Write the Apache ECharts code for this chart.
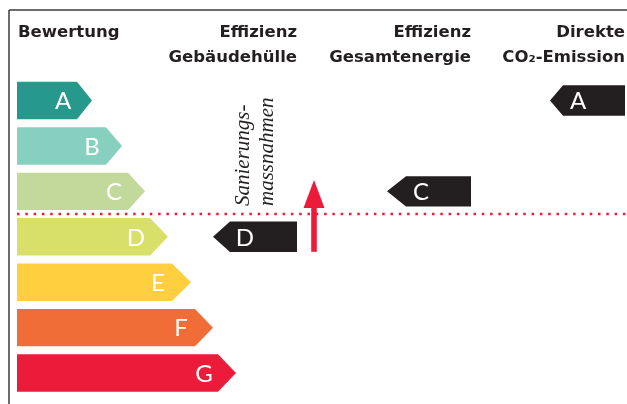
<!DOCTYPE html>
<html>
<head>
<meta charset="utf-8">
<script src="https://cdn.jsdelivr.net/npm/echarts@6/dist/echarts.min.js"></script>
<style>
  html, body { margin: 0; padding: 0; background: #fff; }
  #main { width: 627px; height: 404px; }
</style>
</head>
<body>
<div id="main"></div>
<script>
// Skala (Bewertung A-G): Ende des Balkens und Spitze, in Pixeln ab linkem Rand
var ratings = ['A', 'B', 'C', 'D', 'E', 'F', 'G'];
var ratingBodyEnds = [60, 89, 111, 133, 155, 178, 201];
var ratingTipEnds = [75, 105, 128, 151, 174, 196, 219];
var ratingColors = ['#27998c', '#87cfbf', '#c3d99c', '#d9e06a', '#ffcf40', '#f16d37', '#ed1b3a'];

// schwarze Markierungen je Spalte
var markerColumns = ['Effizienz\nGebäudehülle', 'Effizienz\nGesamtenergie', 'Direkte\nCO₂-Emission'];
var markerRatings = ['D', 'C', 'A'];
var markerTips = [196, 370, 533];
var markerBodyStarts = [213, 389, 546];
var markerEnds = [280, 454, 608];

// Sanierungspfeil: x-Position, von Klasse D nach Klasse C
var arrowX = 297;
var arrowFrom = 'D';
var arrowTo = 'C';

var chartDom = document.getElementById('main');
var myChart = echarts.init(chartDom);

var scaleData = ratings.map(function (r, i) {
  return [ratingBodyEnds[i], ratingTipEnds[i], i];
});
var markerData = markerRatings.map(function (r, i) {
  return [markerTips[i], markerBodyStarts[i], markerEnds[i], ratings.indexOf(r)];
});

var letterFont = '24px Lato';
var headFont = 'bold 16.5px "DejaVu Sans"';

var option = {
  animation: false,
  grid: { left: 17, right: 0, top: 77.8, bottom: 8.2 },
  xAxis: { type: 'value', min: 0, max: 610, show: false },
  yAxis: { type: 'category', data: ratings, inverse: true, show: false },
  graphic: [
    // Rahmen
    { type: 'line', shape: { x1: 9, y1: 10, x2: 627, y2: 10 }, style: { stroke: '#3a3a3a', lineWidth: 1.5 } },
    { type: 'line', shape: { x1: 9, y1: 10, x2: 9, y2: 404 }, style: { stroke: '#3a3a3a', lineWidth: 1.5 } },
    // Überschriften
    { type: 'text', x: 18, y: 32.5, style: { text: 'Bewertung', font: headFont, fill: '#231f20', textAlign: 'left', textVerticalAlign: 'middle' } },
    { type: 'text', x: 297, y: 45, style: { text: markerColumns[0], font: headFont, lineHeight: 25, fill: '#231f20', textAlign: 'right', textVerticalAlign: 'middle' } },
    { type: 'text', x: 471, y: 45, style: { text: markerColumns[1], font: headFont, lineHeight: 25, fill: '#231f20', textAlign: 'right', textVerticalAlign: 'middle' } },
    { type: 'text', x: 625, y: 45, style: { text: markerColumns[2], font: headFont, lineHeight: 25, fill: '#231f20', textAlign: 'right', textVerticalAlign: 'middle' } },
    // gedrehte Beschriftung
    { type: 'text', x: 231, y: 206, rotation: Math.PI / 2, style: { text: 'Sanierungs-\nmassnahmen', font: 'italic 21px "Liberation Serif"', lineHeight: 24, fill: '#231f20', textAlign: 'left', textVerticalAlign: 'top' } }
  ],
  series: [
    {
      type: 'custom',
      name: 'Skala',
      encode: { x: [0, 1], y: 2 },
      data: scaleData,
      renderItem: function (params, api) {
        var row = api.value(2);
        var x0 = api.coord([0, row])[0];
        var cy = api.coord([0, row])[1];
        var bx = api.coord([api.value(0), row])[0];
        var tx = api.coord([api.value(1), row])[0];
        var h = api.size([0, 1])[1] * 0.824;
        return {
          type: 'group',
          children: [
            {
              type: 'polygon',
              shape: { points: [[x0, cy - h / 2], [bx, cy - h / 2], [tx, cy], [bx, cy + h / 2], [x0, cy + h / 2]] },
              style: { fill: ratingColors[params.dataIndex] }
            },
            {
              type: 'text',
              x: bx - 14, y: cy + 1,
              style: { text: ratings[params.dataIndex], font: letterFont, fill: '#fff', textAlign: 'center', textVerticalAlign: 'middle' }
            }
          ]
        };
      }
    },
    {
      type: 'custom',
      name: 'Markierung',
      encode: { x: [0, 1, 2], y: 3 },
      data: markerData,
      renderItem: function (params, api) {
        var row = api.value(3);
        var cy = api.coord([0, row])[1];
        var tip = api.coord([api.value(0), row])[0];
        var bs = api.coord([api.value(1), row])[0];
        var end = api.coord([api.value(2), row])[0];
        var h = api.size([0, 1])[1] * 0.67;
        return {
          type: 'group',
          children: [
            {
              type: 'polygon',
              shape: { points: [[tip, cy], [bs, cy - h / 2], [end, cy - h / 2], [end, cy + h / 2], [bs, cy + h / 2]] },
              style: { fill: '#231f20' }
            },
            {
              type: 'text',
              x: bs + 15, y: cy + 1,
              style: { text: markerRatings[params.dataIndex], font: letterFont, fill: '#fff', textAlign: 'center', textVerticalAlign: 'middle' }
            }
          ]
        };
      }
    },
    {
      type: 'custom',
      name: 'Sanierung',
      encode: { x: 0, y: [1, 2] },
      data: [[arrowX, ratings.indexOf(arrowFrom), ratings.indexOf(arrowTo)]],
      renderItem: function (params, api) {
        var band = api.size([0, 1])[1];
        var from = api.coord([api.value(0), api.value(1)]);
        var to = api.coord([api.value(0), api.value(2)]);
        var x = from[0];
        var bottom = from[1] + band * 0.33;
        var tipY = to[1] - band * 0.25;
        var headBase = tipY + 28;
        // Grenzlinie zwischen C und D
        var lineY = (from[1] + to[1]) / 2;
        var left = api.coord([0, 0])[0];
        var right = api.coord([610, 0])[0];
        return {
          type: 'group',
          children: [
            {
              type: 'line',
              shape: { x1: left, y1: lineY, x2: right, y2: lineY },
              style: { stroke: '#ed1b3a', lineWidth: 2.5, lineDash: [2.5, 5.8] }
            },
            {
              type: 'rect',
              shape: { x: x - 2.8, y: headBase - 1, width: 5.6, height: bottom - headBase + 1 },
              style: { fill: '#ed1b3a' }
            },
            {
              type: 'polygon',
              shape: { points: [[x, tipY], [x + 10.5, headBase], [x - 10.5, headBase]] },
              style: { fill: '#ed1b3a' }
            }
          ]
        };
      }
    }
  ]
};

myChart.setOption(option);
</script>
</body>
</html>
